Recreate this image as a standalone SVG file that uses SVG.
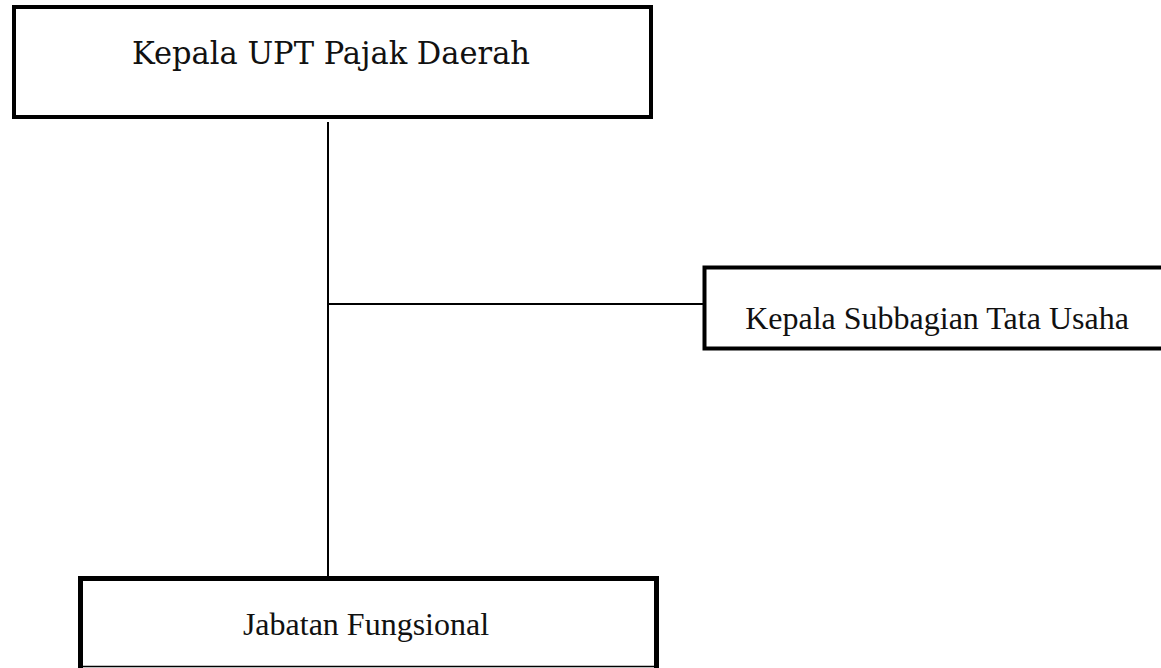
<svg xmlns="http://www.w3.org/2000/svg" width="1161" height="668" viewBox="0 0 1161 668">
  <style>
    .box { fill: #ffffff; stroke: #000000; stroke-width: 4; }
    .link { fill: none; stroke: #000000; stroke-width: 2; }
    .title { font-family: "DejaVu Serif", "Liberation Serif", serif; font-size: 31px; fill: #111111; }
    .label { font-family: "Liberation Serif", "Times New Roman", serif; font-size: 32px; fill: #111111; }
  </style>
  <rect width="1161" height="668" fill="#ffffff"/>

  <!-- connectors -->
  <g id="connectors">
    <line class="link" x1="328" y1="122" x2="328" y2="577"/>
    <line class="link" x1="328" y1="304" x2="704" y2="304"/>
  </g>

  <!-- head of unit -->
  <g id="node-kepala-upt">
    <rect class="box" x="14" y="7" width="637" height="110"/>
    <text class="title" x="331" y="64" text-anchor="middle" textLength="398" lengthAdjust="spacingAndGlyphs">Kepala UPT Pajak Daerah</text>
  </g>

  <!-- administration subsection, runs off the right edge -->
  <g id="node-subbagian">
    <rect class="box" x="704.5" y="267.5" width="480" height="81" stroke-width="5"/>
    <text class="label" x="937" y="329" text-anchor="middle">Kepala Subbagian Tata Usaha</text>
  </g>

  <!-- functional positions, bottom edge cut by the page -->
  <g id="node-jabatan">
    <rect fill="#ffffff" x="80.5" y="578.5" width="576" height="88"/>
    <path d="M80.5 668 V578.5 H656.5 V668" fill="none" stroke="#000" stroke-width="5"/>
    <line x1="80.5" y1="666.5" x2="656.5" y2="666.5" stroke="#000" stroke-width="1.5"/>
    <text class="label" x="366" y="635" font-size="31" text-anchor="middle">Jabatan Fungsional</text>
  </g>
</svg>
